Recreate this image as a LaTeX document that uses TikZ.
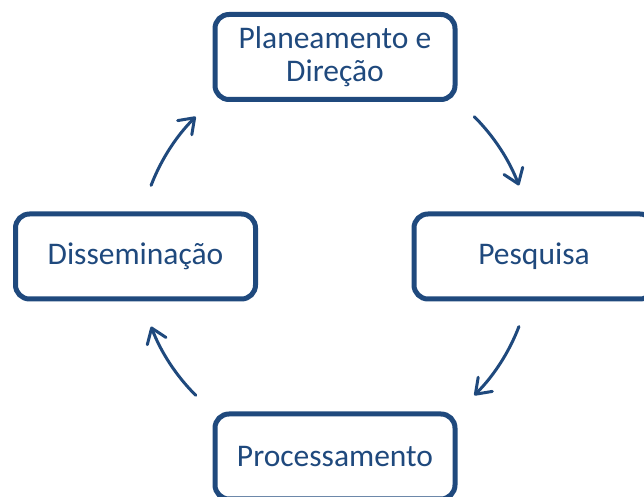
\documentclass[tikz,border=0pt]{standalone}
\usepackage{fontspec}
\setmainfont{Carlito}
\usetikzlibrary{arrows.meta,calc}
\definecolor{navy}{RGB}{31,73,125}
\begin{document}
\begin{tikzpicture}[x=1pt,y=1pt,
  stage/.style={draw=navy,line width=5pt,rounded corners=14pt,fill=white,
    minimum width=240pt,minimum height=85pt,inner sep=0pt,align=center,
    text=navy,font=\fontsize{31.5}{33}\selectfont},
  cyc/.style={draw=navy,line width=3pt,line cap=round,
    -{Straight Barb[length=14pt,width=20pt,line cap=round,line join=round]}}]
\useasboundingbox (0,0) rectangle (644,497);
\coordinate (c) at (335,241);
\node[stage] (plan) at (335,440){Planeamento e\\Direção};
\node[stage] (pesq) at (534,240.5){Pesquisa};
\node[stage] (proc) at (335,40.5){Processamento};
\node[stage] (diss) at (135.5,240.5){Disseminação};
\draw[cyc] ($(c)+(45:197pt)$) arc (45:21:197pt);
\draw[cyc] ($(c)+(-21:197pt)$) arc (-21:-45:197pt);
\draw[cyc] ($(c)+(-135:197pt)$) arc (-135:-159:197pt);
\draw[cyc] ($(c)+(159:197pt)$) arc (159:135:197pt);
\end{tikzpicture}
\end{document}
